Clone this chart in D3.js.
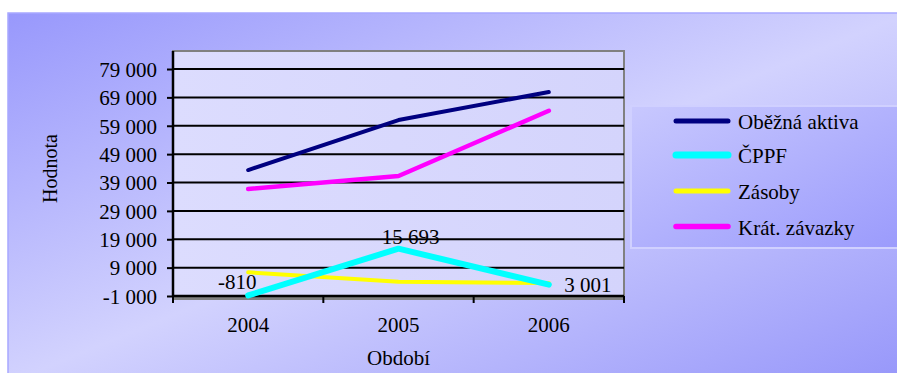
<!DOCTYPE html>
<html>
<head>
<meta charset="utf-8">
<script src="https://cdn.jsdelivr.net/npm/d3@7"></script>
<style>
  html, body { margin: 0; padding: 0; background: #ffffff; }
  svg { display: block; }
  svg text { font-family: "Liberation Serif", "Times New Roman", Tinos, "DejaVu Serif", "Noto Serif", serif !important; fill: #000; }
</style>
</head>
<body>
<svg id="chart" width="897" height="373"></svg>
<script>
// Období (years) on the category axis
const years = ["2004", "2005", "2006"];

// Series values per year
const obeznaAktiva = [43400, 61000, 70900];
const cppf = [-810, 15693, 3001];
const zasoby = [7350, 4050, 3550];
const kratZavazky = [36700, 41300, 64300];

// Y axis tick values
const yTicks = [-1000, 9000, 19000, 29000, 39000, 49000, 59000, 69000, 79000];

const seriesNames = ["Oběžná aktiva", "ČPPF", "Zásoby", "Krát. závazky"];
const seriesColors = ["#000080", "#00ffff", "#ffff00", "#ff00ff"];
const seriesWidths = [4, 6, 4, 4.5];
const seriesValues = [obeznaAktiva, cppf, zasoby, kratZavazky];
// values printed next to points of ČPPF
const labelledSeries = 1;

const FONT = "'Liberation Serif', 'Times New Roman', Tinos, 'DejaVu Serif', 'Noto Serif', serif";

const svg = d3.select("#chart").attr("font-family", FONT);
const defs = svg.append("defs");

const bgGrad = defs.append("linearGradient").attr("id", "bgGrad")
  .attr("x1", "0%").attr("y1", "0%").attr("x2", "100%").attr("y2", "100%");
bgGrad.append("stop").attr("offset", "0%").attr("stop-color", "#9898fc");
bgGrad.append("stop").attr("offset", "50%").attr("stop-color", "#d2d2fe");
bgGrad.append("stop").attr("offset", "100%").attr("stop-color", "#9696fa");

const plotGrad = defs.append("linearGradient").attr("id", "plotGrad")
  .attr("x1", "0%").attr("y1", "0%").attr("x2", "100%").attr("y2", "0%");
plotGrad.append("stop").attr("offset", "0%").attr("stop-color", "#dcdcfe");
plotGrad.append("stop").attr("offset", "100%").attr("stop-color", "#d4d4fc");

const legGrad = defs.append("linearGradient").attr("id", "legGrad")
  .attr("x1", "0%").attr("y1", "0%").attr("x2", "100%").attr("y2", "100%");
legGrad.append("stop").attr("offset", "0%").attr("stop-color", "#c8c8fe");
legGrad.append("stop").attr("offset", "100%").attr("stop-color", "#9a9afc");

// Chart area background
svg.append("rect").attr("x", 8).attr("y", 13).attr("width", 900).attr("height", 370)
  .attr("fill", "url(#bgGrad)").attr("stroke", "#a8a8ff").attr("stroke-width", 1.5);

// Plot area
const plot = { left: 173, right: 624, top: 51, bottom: 296 };

const x = d3.scalePoint().domain(years).range([plot.left, plot.right]).padding(0.5);
const y = d3.scaleLinear().domain([-1000, 85350]).range([plot.bottom, plot.top]);

const loc = d3.formatLocale({ decimal: ",", thousands: "\u00a0", grouping: [3], currency: ["", ""], minus: "-" });
const fmt = loc.format(",d");

svg.append("rect")
  .attr("x", plot.left).attr("y", plot.top)
  .attr("width", plot.right - plot.left).attr("height", plot.bottom - plot.top)
  .attr("fill", "url(#plotGrad)").attr("stroke", "#808080").attr("stroke-width", 2);

// Horizontal gridlines
svg.append("g").selectAll("line")
  .data(yTicks.filter(d => d !== yTicks[0]))
  .join("line")
  .attr("x1", plot.left).attr("x2", plot.right)
  .attr("y1", d => y(d)).attr("y2", d => y(d))
  .attr("stroke", "#000").attr("stroke-width", 2);

// Shadow under the category axis
svg.append("line")
  .attr("x1", plot.left).attr("x2", plot.right)
  .attr("y1", y(yTicks[0]) + 2.5).attr("y2", y(yTicks[0]) + 2.5)
  .attr("stroke", "#808080").attr("stroke-width", 3);

// Y axis
const yAxis = d3.axisLeft(y).tickValues(yTicks).tickFormat(fmt).tickSize(6).tickPadding(10);
const gy = svg.append("g").attr("transform", `translate(${plot.left},0)`).call(yAxis)
  .attr("font-family", FONT).attr("font-size", 21);
gy.select(".domain").attr("stroke", "#000").attr("stroke-width", 2.5)
  .attr("d", `M0,${plot.bottom}V${plot.top}`);
gy.selectAll(".tick line").attr("stroke", "#000").attr("stroke-width", 2);
gy.selectAll(".tick text").attr("fill", "#000").attr("dy", "0.35em");

// X axis: ticks between categories
const bandEdges = d3.range(years.length + 1).map(i => plot.left + i * (plot.right - plot.left) / years.length);
const gx = svg.append("g");
gx.append("line")
  .attr("x1", plot.left).attr("x2", plot.right)
  .attr("y1", plot.bottom).attr("y2", plot.bottom)
  .attr("stroke", "#000").attr("stroke-width", 2.5);
gx.selectAll(".tk").data(bandEdges).join("line").attr("class", "tk")
  .attr("x1", d => d).attr("x2", d => d)
  .attr("y1", plot.bottom).attr("y2", plot.bottom + 7)
  .attr("stroke", "#000").attr("stroke-width", 2);
gx.selectAll("text").data(years).join("text")
  .attr("x", d => x(d)).attr("y", plot.bottom + 36)
  .attr("text-anchor", "middle").attr("font-size", 21)
  .text(d => d);

// Axis titles
svg.append("text").attr("x", (plot.left + plot.right) / 2).attr("y", 365)
  .attr("text-anchor", "middle").attr("font-size", 21).text("Období");
svg.append("text").attr("transform", `translate(57,${(plot.top + plot.bottom) / 2 - 5}) rotate(-90)`)
  .attr("text-anchor", "middle").attr("font-size", 20).text("Hodnota");

// Series lines (drawing order keeps ČPPF on top)
const line = d3.line().x((d, i) => x(years[i])).y(d => y(d));
const drawOrder = [0, 2, 3, 1];
svg.append("g").selectAll("path")
  .data(drawOrder)
  .join("path")
  .attr("d", i => line(seriesValues[i]))
  .attr("fill", "none")
  .attr("stroke", i => seriesColors[i])
  .attr("stroke-width", i => seriesWidths[i])
  .attr("stroke-linecap", "round")
  .attr("stroke-linejoin", "round");

// Data labels for ČPPF
const labelOffsets = [[-11, -6], [12, -5], [39, 7]];
svg.append("g").selectAll("text")
  .data(seriesValues[labelledSeries])
  .join("text")
  .attr("x", (d, i) => x(years[i]) + labelOffsets[i][0])
  .attr("y", (d, i) => y(d) + labelOffsets[i][1])
  .attr("text-anchor", "middle").attr("font-size", 21)
  .text(d => fmt(d));

// Legend
const legend = svg.append("g");
legend.append("rect").attr("x", 631).attr("y", 106).attr("width", 280).attr("height", 142)
  .attr("fill", "url(#legGrad)").attr("stroke", "#d0d0ff").attr("stroke-width", 2);
const rows = legend.selectAll("g.row").data(seriesNames).join("g").attr("class", "row")
  .attr("transform", (d, i) => `translate(0,${[121, 155, 191, 226.5][i]})`);
rows.append("line").attr("x1", 676).attr("x2", 728).attr("y1", 0).attr("y2", 0)
  .attr("stroke", (d, i) => seriesColors[i])
  .attr("stroke-width", (d, i) => seriesWidths[i] + 1)
  .attr("stroke-linecap", "round");
rows.append("text").attr("x", 738).attr("y", 8).attr("font-size", 21).text(d => d);
</script>
</body>
</html>
